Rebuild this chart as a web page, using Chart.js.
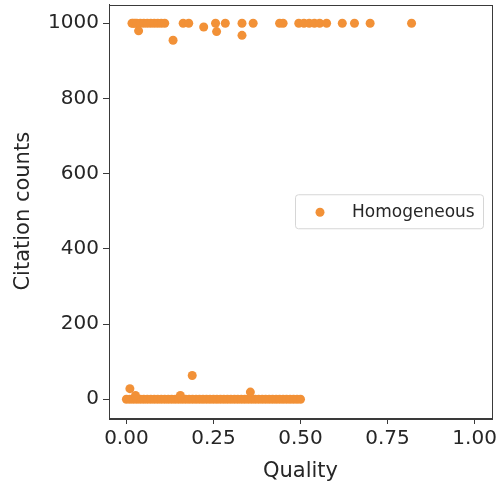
<!DOCTYPE html>
<html>
<head>
<meta charset="utf-8">
<script src="https://cdn.jsdelivr.net/npm/chart.js@4/dist/chart.umd.min.js"></script>
<style>
  html, body { margin: 0; padding: 0; background: #fff; }
  canvas { display: block; }
</style>
</head>
<body>
<canvas id="grafico" width="499" height="484"></canvas>
<script>
// dados
const serieNome = 'Homogeneous';
const qualidade = [
  0.016, 0.02, 0.025, 0.03, 0.04, 0.05, 0.06, 0.07, 0.08, 0.09, 0.10, 0.11,
  0.035, 0.134, 0.163, 0.179, 0.222, 0.256, 0.259, 0.284, 0.332, 0.332, 0.364,
  0.44, 0.45, 0.495, 0.51, 0.525, 0.54, 0.555, 0.575, 0.62, 0.655, 0.70, 0.819,
  0.00, 0.01, 0.02, 0.03, 0.04, 0.05, 0.06, 0.07, 0.08, 0.09, 0.10,
  0.11, 0.12, 0.13, 0.14, 0.15, 0.16, 0.17, 0.18, 0.19, 0.20,
  0.21, 0.22, 0.23, 0.24, 0.25, 0.26, 0.27, 0.28, 0.29, 0.30,
  0.31, 0.32, 0.33, 0.34, 0.35, 0.36, 0.37, 0.38, 0.39, 0.40,
  0.41, 0.42, 0.43, 0.44, 0.45, 0.46, 0.47, 0.48, 0.49, 0.50,
  0.01, 0.026, 0.155, 0.189, 0.356
];
const citacoes = [
  1000, 1000, 1000, 1000, 1000, 1000, 1000, 1000, 1000, 1000, 1000, 1000,
  980, 955, 1000, 1000, 990, 1000, 978, 1000, 1000, 968, 1000,
  1000, 1000, 1000, 1000, 1000, 1000, 1000, 1000, 1000, 1000, 1000, 1000,
  0, 0, 0, 0, 0, 0, 0, 0, 0, 0, 0,
  0, 0, 0, 0, 0, 0, 0, 0, 0, 0,
  0, 0, 0, 0, 0, 0, 0, 0, 0, 0,
  0, 0, 0, 0, 0, 0, 0, 0, 0, 0,
  0, 0, 0, 0, 0, 0, 0, 0, 0, 0,
  28, 10, 10, 63, 19
];
const ticksX = [0, 0.25, 0.5, 0.75, 1.0];
const ticksY = [0, 200, 400, 600, 800, 1000];

const laranja = '#f29137';
const corTexto = '#262626';
const corEixo = '#3a3a3a';

const pontos = qualidade.map((q, i) => ({ x: q, y: citacoes[i] }));

// moldura + legenda dentro da área do gráfico
const molduraLegenda = {
  id: 'molduraLegenda',
  afterDraw(chart) {
    const ctx = chart.ctx;
    const a = chart.chartArea;
    ctx.save();
    ctx.strokeStyle = corEixo;
    ctx.lineWidth = 1;
    ctx.strokeRect(Math.round(a.left) + 0.5, Math.round(a.top) + 0.5,
      Math.round(a.right - a.left), Math.round(a.bottom - a.top));

    // legenda
    const w = 188, h = 34;
    const x0 = a.right - 9 - w;
    const y0 = (a.top + a.bottom) / 2 - h / 2;
    ctx.beginPath();
    if (ctx.roundRect) ctx.roundRect(x0 + 0.5, y0 + 0.5, w, h, 3);
    else ctx.rect(x0 + 0.5, y0 + 0.5, w, h);
    ctx.fillStyle = 'rgba(255,255,255,0.85)';
    ctx.fill();
    ctx.strokeStyle = '#d6d6d6';
    ctx.stroke();

    ctx.beginPath();
    ctx.arc(x0 + 25, y0 + h / 2 + 1, 4.5, 0, Math.PI * 2);
    ctx.fillStyle = laranja;
    ctx.fill();

    ctx.fillStyle = corTexto;
    ctx.font = '17px "DejaVu Sans"';
    ctx.textBaseline = 'middle';
    ctx.textAlign = 'left';
    ctx.fillText(serieNome, x0 + 57, y0 + h / 2 + 1);
    ctx.restore();
  }
};

new Chart(document.getElementById('grafico'), {
  type: 'scatter',
  data: {
    datasets: [{
      label: serieNome,
      data: pontos,
      backgroundColor: laranja,
      borderWidth: 0,
      pointRadius: 4.5,
      pointHoverRadius: 4.5
    }]
  },
  options: {
    responsive: false,
    animation: false,
    layout: { padding: { top: 3, right: 7, left: 0, bottom: 0 } },
    plugins: {
      legend: { display: false },
      tooltip: { enabled: false }
    },
    scales: {
      x: {
        type: 'linear',
        min: -0.05,
        max: 1.05,
        afterBuildTicks: (ax) => { ax.ticks = ticksX.map(v => ({ value: v })); },
        afterFit: (ax) => {
          ax.height = 66;
          ax.paddingLeft = 0;
          ax.paddingRight = 0;
        },
        ticks: {
          color: corTexto,
          font: { family: 'DejaVu Sans', size: 20 },
          padding: 3,
          maxRotation: 0,
          callback: (v) => Number(v).toFixed(2)
        },
        grid: { drawOnChartArea: false, drawTicks: true, tickLength: 6, color: corEixo },
        border: { display: true, color: corEixo },
        title: {
          display: true,
          text: 'Quality',
          color: corTexto,
          font: { family: 'DejaVu Sans', size: 21 },
          padding: { top: 3, bottom: 0 }
        }
      },
      y: {
        type: 'linear',
        min: -50,
        max: 1050,
        afterBuildTicks: (ax) => { ax.ticks = ticksY.map(v => ({ value: v })); },
        afterFit: (ax) => {
          ax.width = 109;
          ax.paddingTop = 0;
          ax.paddingBottom = 0;
        },
        ticks: {
          color: corTexto,
          font: { family: 'DejaVu Sans', size: 20 },
          padding: 4,
          callback: (v) => String(v)
        },
        grid: { drawOnChartArea: false, drawTicks: true, tickLength: 6, color: corEixo },
        border: { display: true, color: corEixo },
        title: {
          display: true,
          text: 'Citation counts',
          color: corTexto,
          font: { family: 'DejaVu Sans', size: 21 },
          padding: { top: 11, bottom: 0 }
        }
      }
    }
  },
  plugins: [molduraLegenda]
});
</script>
</body>
</html>
